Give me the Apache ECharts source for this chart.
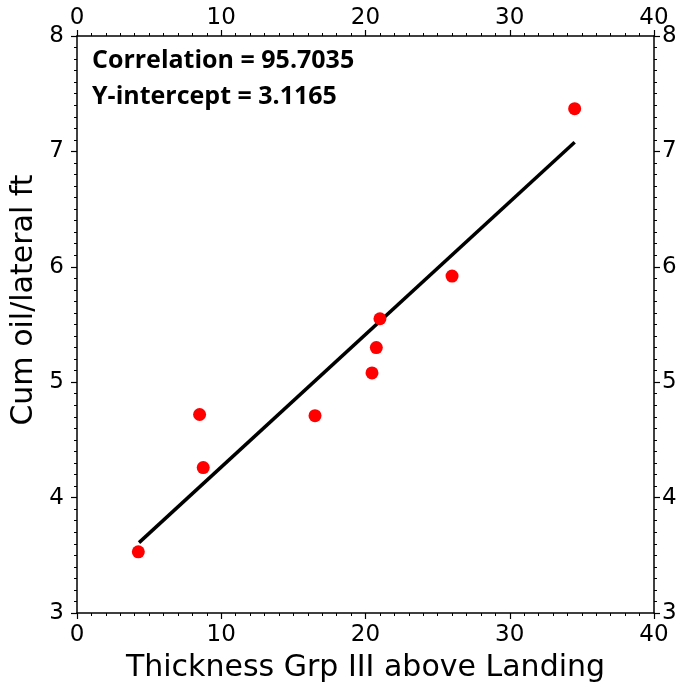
<!DOCTYPE html>
<html>
<head>
<meta charset="utf-8">
<script src="https://cdn.jsdelivr.net/npm/echarts@6/dist/echarts.min.js"></script>
<style>
  html, body { margin: 0; padding: 0; background: #fff; }
  #main { width: 679px; height: 687px; }
</style>
</head>
<body>
<div id="main"></div>
<script>
// thickness vs cum oil
var thickness = [4.25, 8.5, 8.75, 16.5, 20.45, 20.75, 21.0, 26.0, 34.5];
var cumOil = [3.53, 4.72, 4.26, 4.71, 5.08, 5.30, 5.55, 5.92, 7.37];
// fit line end points
var fitX = [4.3, 34.5];
var fitY = [3.61, 7.08];
var statsText = ['Correlation = 95.7035', 'Y-intercept = 3.1165'];
var xName = 'Thickness Grp III above Landing';
var yName = 'Cum oil/lateral ft';

var chart = echarts.init(document.getElementById('main'), null, { renderer: 'canvas' });

var font = 'DejaVu Sans';
var axisBase = {
  min: 0,
  max: 40,
  interval: 10,
  axisLine: { show: true, onZero: false, lineStyle: { color: '#000', width: 1.5 } },
  axisTick: { show: true, inside: false, length: 6, lineStyle: { color: '#000', width: 1.2 } },
  minorTick: { show: true, splitNumber: 10, length: 3, lineStyle: { color: '#000', width: 1 } },
  splitLine: { show: false },
  axisLabel: { color: '#000', fontSize: 23, fontFamily: font }
};

var option = {
  animation: false,
  backgroundColor: '#fff',
  grid: { left: 77, right: 25, top: 36, bottom: 74, containLabel: false, outerBoundsMode: 'none' },
  xAxis: [
    echarts.util.merge({
      type: 'value', position: 'bottom',
      name: xName,
      nameLocation: 'middle', nameGap: 40,
      nameTextStyle: { color: '#000', fontSize: 30, fontFamily: font },
      axisLabel: { margin: 11 }
    }, echarts.util.clone(axisBase), false),
    echarts.util.merge({
      type: 'value', position: 'top',
      axisLabel: { margin: 6 }
    }, echarts.util.clone(axisBase), false)
  ],
  yAxis: [
    echarts.util.merge({
      type: 'value', position: 'left', min: 3, max: 8, interval: 1,
      axisLabel: { margin: 13 }
    }, echarts.util.clone(axisBase), false),
    echarts.util.merge({
      type: 'value', position: 'right', min: 3, max: 8, interval: 1,
      axisLabel: { margin: 8 }
    }, echarts.util.clone(axisBase), false)
  ],
  graphic: [
    {
      type: 'text', x: 24, y: 300, rotation: Math.PI / 2,
      style: { text: yName, fill: '#000', font: '30px "DejaVu Sans"', align: 'center', verticalAlign: 'middle' }
    },
    {
      type: 'text', left: 92, top: 48,
      style: { text: statsText[0], fill: '#000', font: 'bold 25px "Open Sans", sans-serif' }
    },
    {
      type: 'text', left: 92, top: 84,
      style: { text: statsText[1], fill: '#000', font: 'bold 25px "Open Sans", sans-serif' }
    }
  ],
  series: [
    {
      type: 'line',
      data: fitX.map(function (x, i) { return [x, fitY[i]]; }),
      symbol: 'none',
      lineStyle: { color: '#000', width: 3.5 },
      z: 2
    },
    {
      type: 'scatter',
      data: thickness.map(function (x, i) { return [x, cumOil[i]]; }),
      symbol: 'circle',
      symbolSize: 13,
      itemStyle: { color: '#ff0000', opacity: 1 },
      z: 3
    }
  ]
};

chart.setOption(option);
</script>
</body>
</html>
